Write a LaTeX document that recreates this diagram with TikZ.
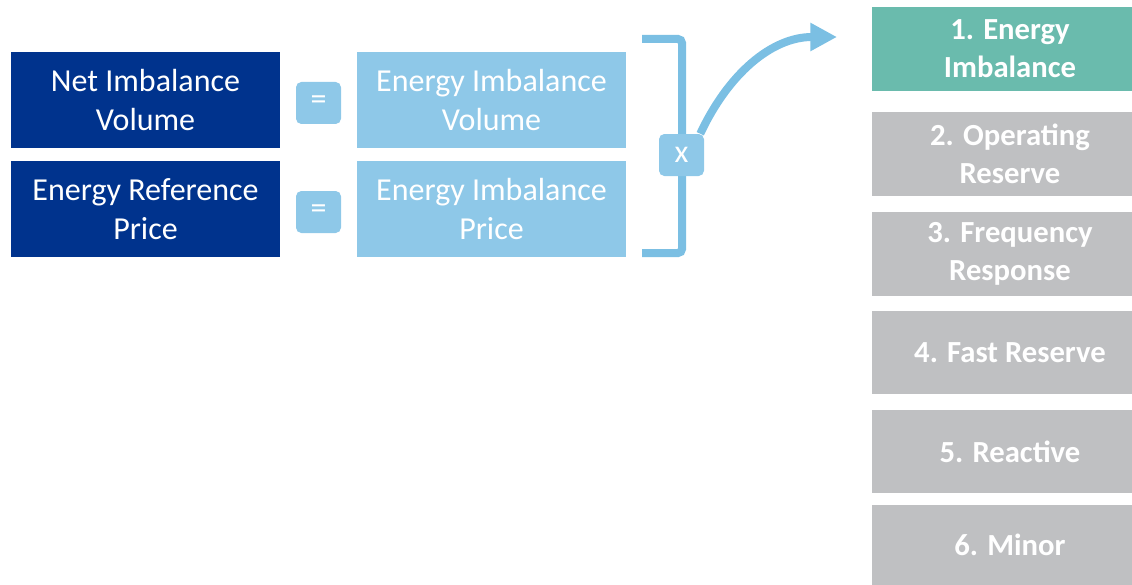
\documentclass[tikz,border=0pt]{standalone}
\usepackage{fontspec}
\setmainfont{Carlito}
\usetikzlibrary{arrows.meta,positioning,calc}
\definecolor{navy}{RGB}{0,51,141}
\definecolor{sky}{RGB}{142,200,232}
\definecolor{skyline}{RGB}{123,191,227}
\definecolor{sea}{RGB}{106,187,173}
\definecolor{stone}{RGB}{191,192,194}
\begin{document}
\begin{tikzpicture}[x=0.75pt,y=-0.75pt,
term/.style={minimum width=201.75pt,minimum height=72pt,inner sep=0pt,outer sep=0pt,align=center,text=white,font=\fontsize{24}{29}\selectfont},
op/.style={fill=sky,rounded corners=4pt,minimum width=33.75pt,minimum height=31.5pt,inner sep=0pt,text=white,font=\fontsize{24}{28}\selectfont},
service/.style={fill=stone,minimum width=207pt,minimum height=63pt,inner sep=0pt,outer sep=0pt,align=center,text=white,font=\fontsize{23}{28.5}\selectfont\bfseries},
brace/.style={draw=skyline,line width=6pt,rounded corners=3pt},
flow/.style={draw=skyline,line width=6pt,-{Triangle[length=20pt,width=20pt]}}]
\useasboundingbox (0,0) rectangle (1132,585);
\node[term,fill=navy] (niv) at (145.5,100) {Net Imbalance\\Volume};
\node[term,fill=navy,below=9.75pt of niv] (erp) {Energy Reference\\Price};
\node[term,fill=sky,right=57.75pt of niv] (eiv) {Energy Imbalance\\Volume};
\node[term,fill=sky,right=57.75pt of erp] (eip) {Energy Imbalance\\Price};
\node[op,yshift=-2.25pt] (eq1) at ($(niv.east)!0.5!(eiv.west)$) {=};
\node[op,yshift=-2.25pt] (eq2) at ($(erp.east)!0.5!(eip.west)$) {=};
\coordinate (btop) at ([xshift=12pt,yshift=9.75pt]eiv.north east);
\coordinate (bbot) at ([xshift=12pt,yshift=3pt]eip.south east);
\draw[brace] (btop) -| ($(bbot)+(40,0)$) -- (bbot);
\node[op] (times) at (681.5,155) {x};
\node[service,fill=sea] (s1) at (1010,49) {1. Energy\\Imbalance};
\node[service,below=15.75pt of s1] (s2) {2. Operating\\Reserve};
\node[service,below=12pt of s2] (s3) {3. Frequency\\Response};
\node[service,below=11.25pt of s3,minimum height=62.25pt] (s4) {4. Fast Reserve};
\node[service,below=12pt of s4,minimum height=62.25pt] (s5) {5. Reactive};
\node[service,below=9pt of s5,minimum height=60pt] (s6) {6. Minor};
\coordinate (tip) at ([xshift=-26.25pt,yshift=9pt]s1.west);
\draw[flow] ([xshift=-3pt]times.north east) to[out=65,in=180] (tip);
\end{tikzpicture}
\end{document}
